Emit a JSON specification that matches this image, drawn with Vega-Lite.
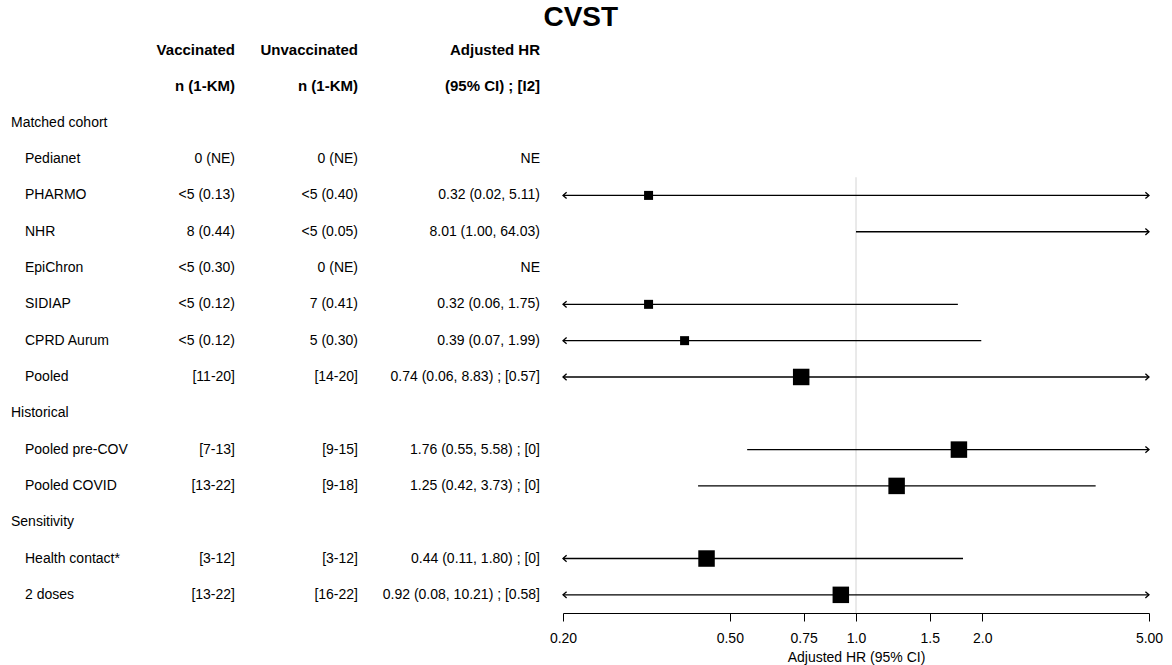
{
  "$schema": "https://vega.github.io/schema/vega-lite/v6.json",
  "background": "white",
  "padding": {"left": 11, "top": 4, "right": 10, "bottom": 4},
  "bounds": "flush",
  "spacing": 0,
  "title": {"text": "CVST", "fontSize": 28, "fontWeight": "bold", "font": "Liberation Sans", "color": "#000", "anchor": "middle", "offset": 0, "dx": -6},
  "config": {
    "view": {"stroke": null},
    "font": "Liberation Sans",
    "text": {"font": "Liberation Sans", "fontSize": 14, "color": "#000", "baseline": "middle"}
  },
  "data": {
    "values": [
      {"row": "header-1", "label": "", "vacc": "Vaccinated", "unvacc": "Unvaccinated", "hr_text": "Adjusted HR", "kind": "header"},
      {"row": "header-2", "label": "", "vacc": "n (1-KM)", "unvacc": "n (1-KM)", "hr_text": "(95% CI) ; [I2]", "kind": "header"},
      {"row": "Matched cohort", "label": "Matched cohort", "kind": "group"},
      {"row": "Pedianet", "label": "Pedianet", "vacc": "0 (NE)", "unvacc": "0 (NE)", "hr_text": "NE", "kind": "study"},
      {"row": "PHARMO", "label": "PHARMO", "vacc": "<5 (0.13)", "unvacc": "<5 (0.40)", "hr_text": "0.32 (0.02, 5.11)", "hr": 0.32, "lo": 0.02, "hi": 5.11, "kind": "study"},
      {"row": "NHR", "label": "NHR", "vacc": "8 (0.44)", "unvacc": "<5 (0.05)", "hr_text": "8.01 (1.00, 64.03)", "hr": 8.01, "lo": 1.0, "hi": 64.03, "kind": "study"},
      {"row": "EpiChron", "label": "EpiChron", "vacc": "<5 (0.30)", "unvacc": "0 (NE)", "hr_text": "NE", "kind": "study"},
      {"row": "SIDIAP", "label": "SIDIAP", "vacc": "<5 (0.12)", "unvacc": "7 (0.41)", "hr_text": "0.32 (0.06, 1.75)", "hr": 0.32, "lo": 0.06, "hi": 1.75, "kind": "study"},
      {"row": "CPRD Aurum", "label": "CPRD Aurum", "vacc": "<5 (0.12)", "unvacc": "5 (0.30)", "hr_text": "0.39 (0.07, 1.99)", "hr": 0.39, "lo": 0.07, "hi": 1.99, "kind": "study"},
      {"row": "Pooled", "label": "Pooled", "vacc": "[11-20]", "unvacc": "[14-20]", "hr_text": "0.74 (0.06, 8.83) ; [0.57]", "hr": 0.74, "lo": 0.06, "hi": 8.83, "kind": "pooled"},
      {"row": "Historical", "label": "Historical", "kind": "group"},
      {"row": "Pooled pre-COV", "label": "Pooled pre-COV", "vacc": "[7-13]", "unvacc": "[9-15]", "hr_text": "1.76 (0.55, 5.58) ; [0]", "hr": 1.76, "lo": 0.55, "hi": 5.58, "kind": "pooled"},
      {"row": "Pooled COVID", "label": "Pooled COVID", "vacc": "[13-22]", "unvacc": "[9-18]", "hr_text": "1.25 (0.42, 3.73) ; [0]", "hr": 1.25, "lo": 0.42, "hi": 3.73, "kind": "pooled"},
      {"row": "Sensitivity", "label": "Sensitivity", "kind": "group"},
      {"row": "Health contact*", "label": "Health contact*", "vacc": "[3-12]", "unvacc": "[3-12]", "hr_text": "0.44 (0.11, 1.80) ; [0]", "hr": 0.44, "lo": 0.11, "hi": 1.8, "kind": "pooled"},
      {"row": "2 doses", "label": "2 doses", "vacc": "[13-22]", "unvacc": "[16-22]", "hr_text": "0.92 (0.08, 10.21) ; [0.58]", "hr": 0.92, "lo": 0.08, "hi": 10.21, "kind": "pooled"}
    ]
  },
  "hconcat": [
    {
      "width": 129,
      "height": 581,
      "encoding": {
        "y": {"field": "row", "type": "nominal", "axis": null,
              "scale": {"type": "band", "paddingInner": 0, "paddingOuter": 0,
                        "domain": ["header-1", "header-2", "Matched cohort", "Pedianet", "PHARMO", "NHR", "EpiChron", "SIDIAP", "CPRD Aurum", "Pooled", "Historical", "Pooled pre-COV", "Pooled COVID", "Sensitivity", "Health contact*", "2 doses"]}},
        "x": {"value": 0},
        "text": {"field": "label", "type": "nominal"}
      },
      "layer": [
        {"transform": [{"filter": "datum.kind == 'group'"}], "mark": {"type": "text", "align": "left"}},
        {"transform": [{"filter": "datum.kind == 'study' || datum.kind == 'pooled'"}], "mark": {"type": "text", "align": "left", "dx": 14}}
      ]
    },
    {
      "width": 95,
      "height": 581,
      "transform": [{"filter": "isValid(datum.vacc)"}],
      "encoding": {
        "y": {"field": "row", "type": "nominal", "axis": null,
              "scale": {"type": "band", "paddingInner": 0, "paddingOuter": 0,
                        "domain": ["header-1", "header-2", "Matched cohort", "Pedianet", "PHARMO", "NHR", "EpiChron", "SIDIAP", "CPRD Aurum", "Pooled", "Historical", "Pooled pre-COV", "Pooled COVID", "Sensitivity", "Health contact*", "2 doses"]}},
        "x": {"value": "width"},
        "text": {"field": "vacc", "type": "nominal"}
      },
      "layer": [
        {"transform": [{"filter": "datum.kind == 'header'"}], "mark": {"type": "text", "align": "right", "fontWeight": "bold", "fontSize": 15}},
        {"transform": [{"filter": "datum.kind != 'header'"}], "mark": {"type": "text", "align": "right"}}
      ]
    },
    {
      "width": 123,
      "height": 581,
      "transform": [{"filter": "isValid(datum.unvacc)"}],
      "encoding": {
        "y": {"field": "row", "type": "nominal", "axis": null,
              "scale": {"type": "band", "paddingInner": 0, "paddingOuter": 0,
                        "domain": ["header-1", "header-2", "Matched cohort", "Pedianet", "PHARMO", "NHR", "EpiChron", "SIDIAP", "CPRD Aurum", "Pooled", "Historical", "Pooled pre-COV", "Pooled COVID", "Sensitivity", "Health contact*", "2 doses"]}},
        "x": {"value": "width"},
        "text": {"field": "unvacc", "type": "nominal"}
      },
      "layer": [
        {"transform": [{"filter": "datum.kind == 'header'"}], "mark": {"type": "text", "align": "right", "fontWeight": "bold", "fontSize": 15}},
        {"transform": [{"filter": "datum.kind != 'header'"}], "mark": {"type": "text", "align": "right"}}
      ]
    },
    {
      "width": 205,
      "height": 581,
      "transform": [{"filter": "isValid(datum.hr_text)"}],
      "encoding": {
        "y": {"field": "row", "type": "nominal", "axis": null,
              "scale": {"type": "band", "paddingInner": 0, "paddingOuter": 0,
                        "domain": ["header-1", "header-2", "Matched cohort", "Pedianet", "PHARMO", "NHR", "EpiChron", "SIDIAP", "CPRD Aurum", "Pooled", "Historical", "Pooled pre-COV", "Pooled COVID", "Sensitivity", "Health contact*", "2 doses"]}},
        "x": {"value": "width"},
        "text": {"field": "hr_text", "type": "nominal"}
      },
      "layer": [
        {"transform": [{"filter": "datum.kind == 'header'"}], "mark": {"type": "text", "align": "right", "fontWeight": "bold", "fontSize": 15, "dx": -23}},
        {"transform": [{"filter": "datum.kind != 'header'"}], "mark": {"type": "text", "align": "right", "dx": -23}}
      ]
    },
    {
      "width": 586,
      "height": 581,
      "layer": [
        {
          "data": {"values": [{"ref": 1}]},
          "mark": {"type": "rule", "color": "#d4d4d4", "strokeWidth": 1},
          "encoding": {
            "x": {"field": "ref", "type": "quantitative",
                  "scale": {"type": "log", "domain": [0.2, 5], "clamp": true, "nice": false, "zero": false},
                  "axis": {"title": "Adjusted HR (95% CI)", "values": [0.2, 0.5, 0.75, 1, 1.5, 2, 5],
                           "labelExpr": "datum.value < 0.8 || datum.value > 3 ? format(datum.value, '.2f') : format(datum.value, '.1f')",
                           "grid": false, "domainColor": "#000", "tickColor": "#000", "tickSize": 8, "domainWidth": 1, "tickWidth": 1, "labelFlush": false,
                           "labelFont": "Liberation Sans", "labelFontSize": 14, "labelColor": "#000", "labelPadding": 10,
                           "titleFont": "Liberation Sans", "titleFontSize": 14, "titleFontWeight": "normal", "titleColor": "#000", "titlePadding": 5}},
            "y": {"datum": "PHARMO", "bandPosition": 0,
                  "scale": {"type": "band", "paddingInner": 0, "paddingOuter": 0,
                            "domain": ["header-1", "header-2", "Matched cohort", "Pedianet", "PHARMO", "NHR", "EpiChron", "SIDIAP", "CPRD Aurum", "Pooled", "Historical", "Pooled pre-COV", "Pooled COVID", "Sensitivity", "Health contact*", "2 doses"]},
                  "axis": null},
            "y2": {"value": "height"}
          }
        },
        {
          "transform": [{"filter": "isValid(datum.lo)"}],
          "mark": {"type": "rule", "color": "#000", "strokeWidth": 1.4},
          "encoding": {
            "x": {"field": "lo", "type": "quantitative",
                  "scale": {"type": "log", "domain": [0.2, 5], "clamp": true, "nice": false, "zero": false},
                  "axis": {"title": "Adjusted HR (95% CI)", "values": [0.2, 0.5, 0.75, 1, 1.5, 2, 5],
                           "labelExpr": "datum.value < 0.8 || datum.value > 3 ? format(datum.value, '.2f') : format(datum.value, '.1f')",
                           "grid": false, "domainColor": "#000", "tickColor": "#000", "tickSize": 8, "domainWidth": 1, "tickWidth": 1, "labelFlush": false,
                           "labelFont": "Liberation Sans", "labelFontSize": 14, "labelColor": "#000", "labelPadding": 10,
                           "titleFont": "Liberation Sans", "titleFontSize": 14, "titleFontWeight": "normal", "titleColor": "#000", "titlePadding": 5}},
            "x2": {"field": "hi"},
            "y": {"field": "row", "type": "nominal", "axis": null}
          }
        },
        {
          "transform": [{"filter": "isValid(datum.lo) && datum.lo < 0.2"}],
          "mark": {"type": "point", "shape": "M0.9,-0.8L0,0L0.9,0.8", "filled": false, "stroke": "#000", "strokeWidth": 1.3, "size": 64, "opacity": 1},
          "encoding": {
            "x": {"field": "lo", "type": "quantitative",
                  "scale": {"type": "log", "domain": [0.2, 5], "clamp": true, "nice": false, "zero": false},
                  "axis": {"title": "Adjusted HR (95% CI)", "values": [0.2, 0.5, 0.75, 1, 1.5, 2, 5],
                           "labelExpr": "datum.value < 0.8 || datum.value > 3 ? format(datum.value, '.2f') : format(datum.value, '.1f')",
                           "grid": false, "domainColor": "#000", "tickColor": "#000", "tickSize": 8, "domainWidth": 1, "tickWidth": 1, "labelFlush": false,
                           "labelFont": "Liberation Sans", "labelFontSize": 14, "labelColor": "#000", "labelPadding": 10,
                           "titleFont": "Liberation Sans", "titleFontSize": 14, "titleFontWeight": "normal", "titleColor": "#000", "titlePadding": 5}},
            "y": {"field": "row", "type": "nominal", "axis": null}
          }
        },
        {
          "transform": [{"filter": "isValid(datum.hi) && datum.hi > 5"}],
          "mark": {"type": "point", "shape": "M-0.9,-0.8L0,0L-0.9,0.8", "filled": false, "stroke": "#000", "strokeWidth": 1.3, "size": 64, "opacity": 1},
          "encoding": {
            "x": {"field": "hi", "type": "quantitative",
                  "scale": {"type": "log", "domain": [0.2, 5], "clamp": true, "nice": false, "zero": false},
                  "axis": {"title": "Adjusted HR (95% CI)", "values": [0.2, 0.5, 0.75, 1, 1.5, 2, 5],
                           "labelExpr": "datum.value < 0.8 || datum.value > 3 ? format(datum.value, '.2f') : format(datum.value, '.1f')",
                           "grid": false, "domainColor": "#000", "tickColor": "#000", "tickSize": 8, "domainWidth": 1, "tickWidth": 1, "labelFlush": false,
                           "labelFont": "Liberation Sans", "labelFontSize": 14, "labelColor": "#000", "labelPadding": 10,
                           "titleFont": "Liberation Sans", "titleFontSize": 14, "titleFontWeight": "normal", "titleColor": "#000", "titlePadding": 5}},
            "y": {"field": "row", "type": "nominal", "axis": null}
          }
        },
        {
          "transform": [{"filter": "isValid(datum.hr) && datum.hr >= 0.2 && datum.hr <= 5"}],
          "mark": {"type": "point", "shape": "square", "filled": true, "color": "#000", "opacity": 1},
          "encoding": {
            "x": {"field": "hr", "type": "quantitative",
                  "scale": {"type": "log", "domain": [0.2, 5], "clamp": true, "nice": false, "zero": false},
                  "axis": {"title": "Adjusted HR (95% CI)", "values": [0.2, 0.5, 0.75, 1, 1.5, 2, 5],
                           "labelExpr": "datum.value < 0.8 || datum.value > 3 ? format(datum.value, '.2f') : format(datum.value, '.1f')",
                           "grid": false, "domainColor": "#000", "tickColor": "#000", "tickSize": 8, "domainWidth": 1, "tickWidth": 1, "labelFlush": false,
                           "labelFont": "Liberation Sans", "labelFontSize": 14, "labelColor": "#000", "labelPadding": 10,
                           "titleFont": "Liberation Sans", "titleFontSize": 14, "titleFontWeight": "normal", "titleColor": "#000", "titlePadding": 5}},
            "y": {"field": "row", "type": "nominal", "axis": null},
            "size": {"field": "kind", "type": "ordinal", "scale": {"domain": ["study", "pooled"], "range": [81, 272]}, "legend": null}
          }
        }
      ]
    }
  ]
}
